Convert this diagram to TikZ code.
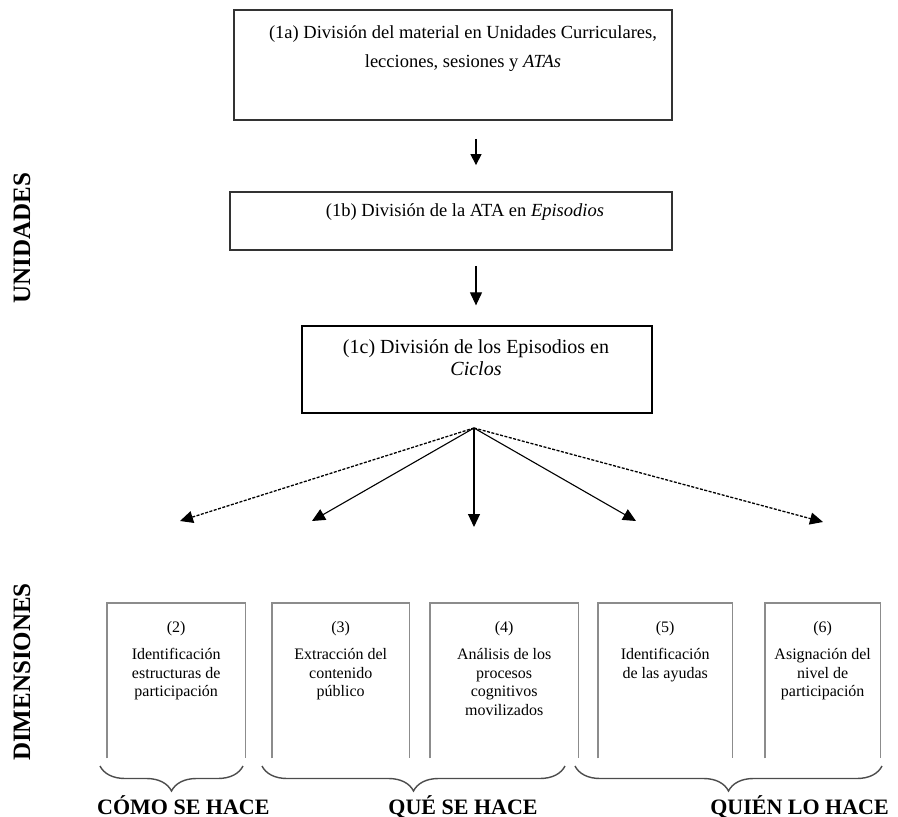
\documentclass[tikz,border=0pt]{standalone}
\usepackage{fontspec}
\setmainfont{Liberation Serif}
\usetikzlibrary{arrows.meta,positioning,decorations.pathreplacing}
\tikzset
{
	unitbox/.style   = {rectangle, draw=black!80, line width=1.8pt, inner sep=0pt},
	dimbox/.style    = {rectangle, inner sep=0pt, minimum height=155pt, anchor=north west},
	dimside/.style   = {draw=black!45, line width=1.5pt},
	unittext/.style  = {align=center, inner sep=0pt, anchor=north, font=\fontsize{18.5}{29}\selectfont},
	dimtext/.style   = {align=center, inner sep=0pt, anchor=north, font=\fontsize{16}{18.5}\selectfont},
	arrowline/.style = {-{Triangle[length=13pt,width=12pt]}, line width=1.1pt},
	dashline/.style  = {arrowline, line width=1.3pt, dash pattern=on 3pt off 1.5pt},
	sidelabel/.style = {rotate=90, inner sep=0pt, font=\bfseries\fontsize{25}{25}\selectfont},
	howlabel/.style  = {inner sep=0pt, font=\bfseries\fontsize{22}{22}\selectfont},
	curly/.style     = {decorate, decoration={brace, mirror, amplitude=25pt}, draw=black!70, line width=1.4pt}
}

\begin{document}
\begin{tikzpicture}[x=1pt, y=-1pt]
\useasboundingbox (0,0) rectangle (898,817);

\node[sidelabel] (sunits) at (22,238) {UNIDADES};
\node[sidelabel] (sdims) at (22,672) {DIMENSIONES};

\node[unitbox, minimum width=438pt, minimum height=110pt] (u1a) at (453,65) {};
\node[unittext] (t1a) at (463,25) {(1a) División del material en Unidades Curriculares,\\lecciones, sesiones y \textit{ATAs}};
\node[unitbox, minimum width=442pt, minimum height=58pt] (u1b) at (451,221) {};
\node[unittext] (t1b) at (465,203) {(1b) División de la ATA en \textit{Episodios}};
\node[unitbox, draw=black, line width=1.3pt, minimum width=350pt, minimum height=87pt] (u1c) at (477,369.5) {};
\node[unittext, font=\fontsize{20}{22}\selectfont] (t1c) at (476,339) {(1c) División de los Episodios en\\\textit{Ciclos}};

\draw[arrowline, -{Triangle[length=11pt,width=11pt]}] ([yshift=-18pt]u1a.south -| t1c.north) -- ([yshift=26pt]u1b.north -| t1c.north);
\draw[arrowline] ([yshift=-15pt]u1b.south -| t1c.north) -- ([yshift=20pt]u1c.north -| t1c.north);

\coordinate (fan) at (474,428);
\coordinate (a2) at (180,521);
\coordinate (a3) at (312,521);
\coordinate (a4) at (474,527);
\coordinate (a5) at (636,521);
\coordinate (a6) at (823,522);
\draw[dashline] (fan) -- (a2);
\draw[arrowline] (fan) -- (a3);
\draw[arrowline] (fan) -- (a4);
\draw[arrowline] (fan) -- (a5);
\draw[dashline] (fan) -- (a6);

\node[dimbox, minimum width=138pt] (d2) at (107,603) {};
\node[dimbox, minimum width=137pt] (d3) at (272,603) {};
\node[dimbox, minimum width=148pt] (d4) at (430,603) {};
\node[dimbox, minimum width=134pt] (d5) at (598,603) {};
\node[dimbox, minimum width=115pt] (d6) at (765,603) {};
\foreach \d in {d2,d3,d4,d5,d6}
  \draw[dimside] (\d.south west) -- (\d.north west) -- (\d.north east) -- (\d.south east);

\node[dimtext] (n2) at ([yshift=-18pt]d2.north) {(2)\\[9pt]Identificación\\estructuras de\\participación};
\node[dimtext] (n3) at ([yshift=-18pt]d3.north) {(3)\\[9pt]Extracción del\\contenido\\público};
\node[dimtext] (n4) at ([yshift=-18pt]d4.north) {(4)\\[9pt]Análisis de los\\procesos\\cognitivos\\movilizados};
\node[dimtext] (n5) at ([yshift=-18pt]d5.north) {(5)\\[9pt]Identificación\\de las ayudas};
\node[dimtext] (n6) at ([yshift=-18pt]d6.north) {(6)\\[9pt]Asignación del\\nivel de\\participación};

\draw[curly] (100,766) -- (243,766);
\draw[curly] (262,766) -- (565,766);
\draw[curly] (575,766) -- (882,766);

\node[howlabel, anchor=base west] (how1) at (97,814) {CÓMO SE HACE};
\node[howlabel, anchor=base] (how2) at (463,814) {QUÉ SE HACE};
\node[howlabel, anchor=base east] (how3) at (889,814) {QUIÉN LO HACE};
\end{tikzpicture}
\end{document}
